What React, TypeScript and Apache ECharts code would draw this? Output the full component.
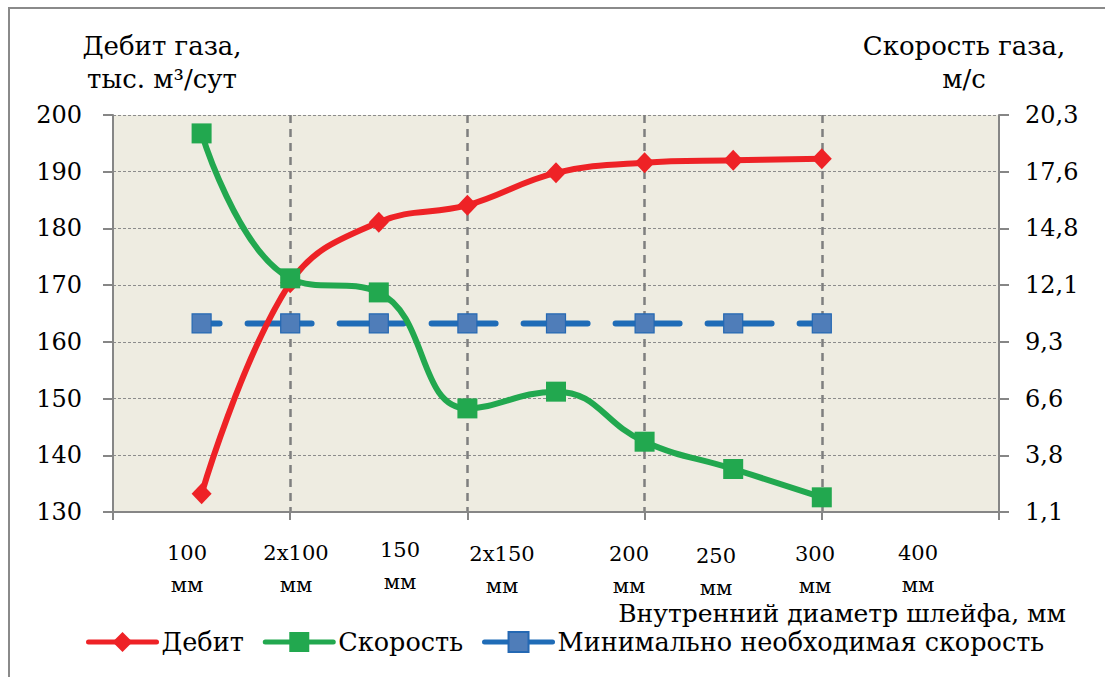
import React, { useEffect, useRef } from "react";
import * as echarts from "echarts";

// Flow-line diameters, in the order they are plotted
const diameters = ["100", "2x100", "150", "2x150", "200", "250", "300", "400"];
const diameterUnit = "мм";

// Gas flow rate, thousand m³/day (left axis)
const debit = [133.2, 170.4, 181.1, 184.1, 189.8, 191.6, 192.0, 192.3];
// Gas velocity, m/s (right axis)
const speed = [19.41, 12.4, 11.72, 6.11, 6.92, 4.5, 3.18, 1.81];
// Minimum required velocity, m/s (right axis)
const minSpeed = [10.22, 10.22, 10.22, 10.22, 10.22, 10.22, 10.22, 10.22];

// Axis ranges
const debitMin = 130;
const debitMax = 200;
const debitStep = 10;
const speedMin = 1.1;
const speedMax = 20.3;
const speedTickCount = 8;

const seriesNames = ["Дебит", "Скорость", "Минимально необходимая скорость"];

// Where the diameter captions sit under the axis (centre x, number row y)
const captionAnchors: [number, number][] = [
  [187, 553],
  [296, 553],
  [400, 550],
  [502, 554],
  [629, 554],
  [716, 556],
  [815, 554],
  [918, 553],
];

const FONT = "DejaVu Serif";
const AXIS_GREY = "#868686";

export default function App() {
  const ref = useRef<HTMLDivElement>(null);

  useEffect(() => {
    document.body.style.margin = "0";
    if (!ref.current) return;
    const chart = echarts.init(ref.current, null, { renderer: "svg" });

    const speedTicks: number[] = [];
    for (let i = 0; i < speedTickCount; i++) {
      speedTicks.push(speedMin + ((speedMax - speedMin) * i) / (speedTickCount - 1));
    }
    const fmtComma = (v: number) => v.toFixed(1).replace(".", ",");

    const pos = (arr: number[]) => arr.map((v, i) => [i + 1, v]);

    const textStyle = (text: string, size: number, align = "center") => ({
      text,
      fontSize: size,
      fontFamily: FONT,
      fill: "#000",
      align,
      verticalAlign: "middle",
    });

    const captions: any[] = [];
    diameters.forEach((d, i) => {
      const [cx, cy] = captionAnchors[i];
      captions.push({ type: "text", x: cx, y: cy, style: textStyle(d, 21) });
      captions.push({ type: "text", x: cx, y: cy + 32, style: textStyle(diameterUnit, 21) });
    });

    const option: any = {
      animation: false,
      backgroundColor: "#ffffff",
      textStyle: { fontFamily: FONT },
      grid: {
        left: 113,
        right: 106,
        top: 115,
        bottom: 165,
        show: true,
        backgroundColor: "#EEECE1",
        borderWidth: 0,
      },
      xAxis: {
        type: "value",
        min: 0,
        max: 10,
        interval: 2,
        axisLine: { show: true, onZero: false, lineStyle: { color: AXIS_GREY, width: 2 } },
        axisTick: { show: true, length: 8, lineStyle: { color: AXIS_GREY, width: 2 } },
        axisLabel: { show: false },
        splitLine: {
          show: true,
          showMinLine: false,
          showMaxLine: false,
          lineStyle: { color: "#7f7f7f", width: 2.5, type: [8, 6] },
        },
      },
      yAxis: [
        {
          type: "value",
          position: "left",
          min: debitMin,
          max: debitMax,
          interval: debitStep,
          axisLine: { show: true, onZero: false, lineStyle: { color: AXIS_GREY, width: 2 } },
          axisTick: { show: true, length: 10, lineStyle: { color: AXIS_GREY, width: 2 } },
          axisLabel: { fontSize: 24, color: "#000", margin: 31, fontFamily: FONT },
          splitLine: {
            show: true,
            showMinLine: false,
            lineStyle: { color: "#8c8c8c", width: 1, type: [3, 2] },
          },
        },
        {
          type: "value",
          position: "right",
          min: speedMin,
          max: speedMax,
          axisLine: { show: true, onZero: false, lineStyle: { color: AXIS_GREY, width: 2 } },
          axisTick: {
            show: true,
            length: 10,
            customValues: speedTicks,
            lineStyle: { color: AXIS_GREY, width: 2 },
          },
          axisLabel: {
            fontSize: 24,
            color: "#000",
            margin: 26,
            fontFamily: FONT,
            customValues: speedTicks,
            formatter: (v: number) => fmtComma(v),
          },
          splitLine: { show: false },
        },
      ],
      legend: {
        left: 86,
        top: 629,
        padding: 0,
        itemWidth: 68,
        itemHeight: 25,
        itemGap: 19,
        lineStyle: { width: 5 },
        textStyle: { fontSize: 25.5, color: "#000", fontFamily: FONT },
        data: [
          { name: seriesNames[0] },
          { name: seriesNames[1] },
          { name: seriesNames[2], lineStyle: { type: "solid", width: 5 } },
        ],
      },
      series: [
        {
          name: seriesNames[2],
          type: "line",
          yAxisIndex: 1,
          data: pos(minSpeed),
          symbol: "rect",
          symbolSize: 19,
          lineStyle: { color: "#1F6CB7", width: 6, type: [64, 28], dashOffset: 46, cap: "round" },
          itemStyle: { color: "#4F7DB9", borderColor: "#2468B3", borderWidth: 1.2 },
        },
        {
          name: seriesNames[0],
          type: "line",
          yAxisIndex: 0,
          data: pos(debit),
          smooth: 0.4,
          symbol: "diamond",
          symbolSize: [20, 21],
          lineStyle: { color: "#EE2226", width: 6, cap: "round" },
          itemStyle: { color: "#EE2226" },
        },
        {
          name: seriesNames[1],
          type: "line",
          yAxisIndex: 1,
          data: pos(speed),
          smooth: 0.45,
          symbol: "rect",
          symbolSize: 20,
          lineStyle: { color: "#22A84F", width: 6, cap: "round" },
          itemStyle: { color: "#22A84F" },
        },
      ],
      graphic: [
        {
          type: "rect",
          silent: true,
          shape: { x: 9, y: 8, width: 1300, height: 900 },
          style: { fill: "none", stroke: "#8a8a8a", lineWidth: 2 },
        },
        { type: "text", x: 162, y: 46, style: textStyle("Дебит газа,", 26) },
        { type: "text", x: 162, y: 79, style: textStyle("тыс. м³/сут", 26) },
        { type: "text", x: 964, y: 46, style: textStyle("Скорость газа,", 26) },
        { type: "text", x: 964, y: 79, style: textStyle("м/с", 26) },
        {
          type: "text",
          x: 1066,
          y: 613,
          style: textStyle("Внутренний диаметр шлейфа, мм", 25, "right"),
        },
        ...captions,
      ],
    };

    chart.setOption(option);
    return () => chart.dispose();
  }, []);

  return <div ref={ref} style={{ width: 1105, height: 677 }} />;
}
